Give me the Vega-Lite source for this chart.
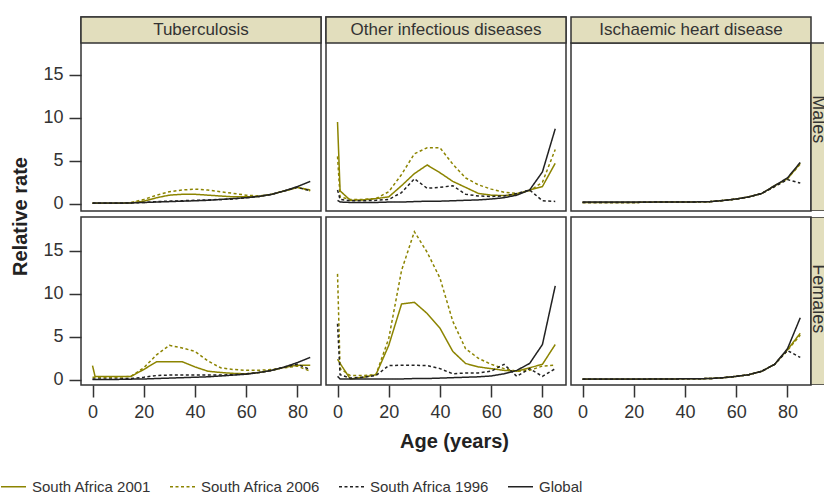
{
  "$schema": "https://vega.github.io/schema/vega-lite/v6.json",
  "padding": {"left": 0, "top": 15, "right": 0, "bottom": 0},
  "background": "white",
  "data": {"values": [
    {"disease":"Tuberculosis","sex":"Males","age":0,"South Africa 2001":0.05,"South Africa 2006":0.05,"South Africa 1996":0.05,"Global":0.1},
    {"disease":"Tuberculosis","sex":"Males","age":1,"South Africa 2001":0.05,"South Africa 2006":0.05,"South Africa 1996":0.05,"Global":0.1},
    {"disease":"Tuberculosis","sex":"Males","age":5,"South Africa 2001":0.05,"South Africa 2006":0.05,"South Africa 1996":0.05,"Global":0.1},
    {"disease":"Tuberculosis","sex":"Males","age":10,"South Africa 2001":0.05,"South Africa 2006":0.05,"South Africa 1996":0.05,"Global":0.1},
    {"disease":"Tuberculosis","sex":"Males","age":15,"South Africa 2001":0.1,"South Africa 2006":0.15,"South Africa 1996":0.1,"Global":0.1},
    {"disease":"Tuberculosis","sex":"Males","age":20,"South Africa 2001":0.3,"South Africa 2006":0.5,"South Africa 1996":0.15,"Global":0.15},
    {"disease":"Tuberculosis","sex":"Males","age":25,"South Africa 2001":0.7,"South Africa 2006":1.0,"South Africa 1996":0.25,"Global":0.2},
    {"disease":"Tuberculosis","sex":"Males","age":30,"South Africa 2001":1.0,"South Africa 2006":1.4,"South Africa 1996":0.3,"Global":0.25},
    {"disease":"Tuberculosis","sex":"Males","age":35,"South Africa 2001":1.1,"South Africa 2006":1.6,"South Africa 1996":0.35,"Global":0.3},
    {"disease":"Tuberculosis","sex":"Males","age":40,"South Africa 2001":1.1,"South Africa 2006":1.7,"South Africa 1996":0.4,"Global":0.35},
    {"disease":"Tuberculosis","sex":"Males","age":45,"South Africa 2001":1.0,"South Africa 2006":1.6,"South Africa 1996":0.45,"Global":0.4},
    {"disease":"Tuberculosis","sex":"Males","age":50,"South Africa 2001":0.9,"South Africa 2006":1.4,"South Africa 1996":0.5,"Global":0.5},
    {"disease":"Tuberculosis","sex":"Males","age":55,"South Africa 2001":0.8,"South Africa 2006":1.2,"South Africa 1996":0.55,"Global":0.6},
    {"disease":"Tuberculosis","sex":"Males","age":60,"South Africa 2001":0.8,"South Africa 2006":1.0,"South Africa 1996":0.7,"Global":0.7},
    {"disease":"Tuberculosis","sex":"Males","age":65,"South Africa 2001":0.85,"South Africa 2006":0.9,"South Africa 1996":0.85,"Global":0.85},
    {"disease":"Tuberculosis","sex":"Males","age":70,"South Africa 2001":1.1,"South Africa 2006":1.1,"South Africa 1996":1.1,"Global":1.1},
    {"disease":"Tuberculosis","sex":"Males","age":75,"South Africa 2001":1.5,"South Africa 2006":1.5,"South Africa 1996":1.5,"Global":1.5},
    {"disease":"Tuberculosis","sex":"Males","age":80,"South Africa 2001":1.9,"South Africa 2006":1.9,"South Africa 1996":1.9,"Global":2.0},
    {"disease":"Tuberculosis","sex":"Males","age":85,"South Africa 2001":1.6,"South Africa 2006":1.5,"South Africa 1996":1.5,"Global":2.6},
    {"disease":"Tuberculosis","sex":"Females","age":0,"South Africa 2001":1.65,"South Africa 2006":0.3,"South Africa 1996":0.1,"Global":0.05},
    {"disease":"Tuberculosis","sex":"Females","age":1,"South Africa 2001":0.38,"South Africa 2006":0.3,"South Africa 1996":0.1,"Global":0.05},
    {"disease":"Tuberculosis","sex":"Females","age":5,"South Africa 2001":0.38,"South Africa 2006":0.3,"South Africa 1996":0.1,"Global":0.05},
    {"disease":"Tuberculosis","sex":"Females","age":10,"South Africa 2001":0.38,"South Africa 2006":0.3,"South Africa 1996":0.1,"Global":0.05},
    {"disease":"Tuberculosis","sex":"Females","age":15,"South Africa 2001":0.4,"South Africa 2006":0.4,"South Africa 1996":0.15,"Global":0.08},
    {"disease":"Tuberculosis","sex":"Females","age":20,"South Africa 2001":1.2,"South Africa 2006":1.4,"South Africa 1996":0.3,"Global":0.1},
    {"disease":"Tuberculosis","sex":"Females","age":25,"South Africa 2001":2.1,"South Africa 2006":2.9,"South Africa 1996":0.5,"Global":0.15},
    {"disease":"Tuberculosis","sex":"Females","age":30,"South Africa 2001":2.1,"South Africa 2006":4.0,"South Africa 1996":0.55,"Global":0.2},
    {"disease":"Tuberculosis","sex":"Females","age":35,"South Africa 2001":2.1,"South Africa 2006":3.7,"South Africa 1996":0.55,"Global":0.25},
    {"disease":"Tuberculosis","sex":"Females","age":40,"South Africa 2001":1.5,"South Africa 2006":3.3,"South Africa 1996":0.55,"Global":0.3},
    {"disease":"Tuberculosis","sex":"Females","age":45,"South Africa 2001":1.0,"South Africa 2006":2.2,"South Africa 1996":0.55,"Global":0.35},
    {"disease":"Tuberculosis","sex":"Females","age":50,"South Africa 2001":0.85,"South Africa 2006":1.4,"South Africa 1996":0.55,"Global":0.45},
    {"disease":"Tuberculosis","sex":"Females","age":55,"South Africa 2001":0.75,"South Africa 2006":1.2,"South Africa 1996":0.6,"Global":0.55},
    {"disease":"Tuberculosis","sex":"Females","age":60,"South Africa 2001":0.7,"South Africa 2006":1.1,"South Africa 1996":0.7,"Global":0.65},
    {"disease":"Tuberculosis","sex":"Females","age":65,"South Africa 2001":0.85,"South Africa 2006":1.1,"South Africa 1996":0.85,"Global":0.85},
    {"disease":"Tuberculosis","sex":"Females","age":70,"South Africa 2001":1.1,"South Africa 2006":1.2,"South Africa 1996":1.1,"Global":1.1},
    {"disease":"Tuberculosis","sex":"Females","age":75,"South Africa 2001":1.45,"South Africa 2006":1.4,"South Africa 1996":1.5,"Global":1.5},
    {"disease":"Tuberculosis","sex":"Females","age":80,"South Africa 2001":1.7,"South Africa 2006":1.6,"South Africa 1996":1.8,"Global":2.0},
    {"disease":"Tuberculosis","sex":"Females","age":85,"South Africa 2001":1.7,"South Africa 2006":1.0,"South Africa 1996":1.2,"Global":2.6},
    {"disease":"Other infectious diseases","sex":"Males","age":0,"South Africa 2001":9.5,"South Africa 2006":5.5,"South Africa 1996":1.6,"Global":0.4},
    {"disease":"Other infectious diseases","sex":"Males","age":1,"South Africa 2001":1.5,"South Africa 2006":0.8,"South Africa 1996":0.5,"Global":0.2},
    {"disease":"Other infectious diseases","sex":"Males","age":5,"South Africa 2001":0.4,"South Africa 2006":0.5,"South Africa 1996":0.35,"Global":0.15},
    {"disease":"Other infectious diseases","sex":"Males","age":10,"South Africa 2001":0.45,"South Africa 2006":0.5,"South Africa 1996":0.35,"Global":0.15},
    {"disease":"Other infectious diseases","sex":"Males","age":15,"South Africa 2001":0.6,"South Africa 2006":0.6,"South Africa 1996":0.4,"Global":0.15},
    {"disease":"Other infectious diseases","sex":"Males","age":20,"South Africa 2001":0.8,"South Africa 2006":1.4,"South Africa 1996":0.5,"Global":0.2},
    {"disease":"Other infectious diseases","sex":"Males","age":25,"South Africa 2001":2.1,"South Africa 2006":3.4,"South Africa 1996":1.3,"Global":0.2},
    {"disease":"Other infectious diseases","sex":"Males","age":30,"South Africa 2001":3.5,"South Africa 2006":5.8,"South Africa 1996":2.9,"Global":0.25},
    {"disease":"Other infectious diseases","sex":"Males","age":35,"South Africa 2001":4.5,"South Africa 2006":6.5,"South Africa 1996":1.8,"Global":0.3},
    {"disease":"Other infectious diseases","sex":"Males","age":40,"South Africa 2001":3.6,"South Africa 2006":6.5,"South Africa 1996":1.9,"Global":0.3},
    {"disease":"Other infectious diseases","sex":"Males","age":45,"South Africa 2001":2.6,"South Africa 2006":4.6,"South Africa 1996":2.1,"Global":0.35},
    {"disease":"Other infectious diseases","sex":"Males","age":50,"South Africa 2001":1.9,"South Africa 2006":3.0,"South Africa 1996":1.1,"Global":0.4},
    {"disease":"Other infectious diseases","sex":"Males","age":55,"South Africa 2001":1.2,"South Africa 2006":2.2,"South Africa 1996":0.9,"Global":0.45},
    {"disease":"Other infectious diseases","sex":"Males","age":60,"South Africa 2001":1.0,"South Africa 2006":1.7,"South Africa 1996":0.85,"Global":0.55},
    {"disease":"Other infectious diseases","sex":"Males","age":65,"South Africa 2001":0.95,"South Africa 2006":1.35,"South Africa 1996":0.9,"Global":0.7},
    {"disease":"Other infectious diseases","sex":"Males","age":70,"South Africa 2001":1.1,"South Africa 2006":1.2,"South Africa 1996":1.2,"Global":1.0},
    {"disease":"Other infectious diseases","sex":"Males","age":75,"South Africa 2001":1.6,"South Africa 2006":1.5,"South Africa 1996":1.6,"Global":1.6},
    {"disease":"Other infectious diseases","sex":"Males","age":80,"South Africa 2001":2.0,"South Africa 2006":2.5,"South Africa 1996":0.35,"Global":3.7},
    {"disease":"Other infectious diseases","sex":"Males","age":85,"South Africa 2001":4.7,"South Africa 2006":6.3,"South Africa 1996":0.27,"Global":8.7},
    {"disease":"Other infectious diseases","sex":"Females","age":0,"South Africa 2001":2.4,"South Africa 2006":12.3,"South Africa 1996":6.5,"Global":0.4},
    {"disease":"Other infectious diseases","sex":"Females","age":1,"South Africa 2001":1.9,"South Africa 2006":1.3,"South Africa 1996":0.6,"Global":0.1},
    {"disease":"Other infectious diseases","sex":"Females","age":5,"South Africa 2001":0.1,"South Africa 2006":0.5,"South Africa 1996":0.2,"Global":0.1},
    {"disease":"Other infectious diseases","sex":"Females","age":10,"South Africa 2001":0.3,"South Africa 2006":0.5,"South Africa 1996":0.3,"Global":0.1},
    {"disease":"Other infectious diseases","sex":"Females","age":15,"South Africa 2001":0.6,"South Africa 2006":0.6,"South Africa 1996":0.5,"Global":0.1},
    {"disease":"Other infectious diseases","sex":"Females","age":20,"South Africa 2001":4.0,"South Africa 2006":4.8,"South Africa 1996":1.65,"Global":0.1},
    {"disease":"Other infectious diseases","sex":"Females","age":25,"South Africa 2001":8.8,"South Africa 2006":12.7,"South Africa 1996":1.7,"Global":0.1},
    {"disease":"Other infectious diseases","sex":"Females","age":30,"South Africa 2001":9.0,"South Africa 2006":17.2,"South Africa 1996":1.7,"Global":0.15},
    {"disease":"Other infectious diseases","sex":"Females","age":35,"South Africa 2001":7.7,"South Africa 2006":14.8,"South Africa 1996":1.65,"Global":0.15},
    {"disease":"Other infectious diseases","sex":"Females","age":40,"South Africa 2001":6.0,"South Africa 2006":11.8,"South Africa 1996":1.3,"Global":0.2},
    {"disease":"Other infectious diseases","sex":"Females","age":45,"South Africa 2001":3.3,"South Africa 2006":6.8,"South Africa 1996":0.7,"Global":0.25},
    {"disease":"Other infectious diseases","sex":"Females","age":50,"South Africa 2001":1.9,"South Africa 2006":3.6,"South Africa 1996":0.8,"Global":0.3},
    {"disease":"Other infectious diseases","sex":"Females","age":55,"South Africa 2001":1.5,"South Africa 2006":2.5,"South Africa 1996":0.8,"Global":0.35},
    {"disease":"Other infectious diseases","sex":"Females","age":60,"South Africa 2001":1.3,"South Africa 2006":1.8,"South Africa 1996":1.0,"Global":0.45},
    {"disease":"Other infectious diseases","sex":"Females","age":65,"South Africa 2001":1.1,"South Africa 2006":1.3,"South Africa 1996":1.8,"Global":0.7},
    {"disease":"Other infectious diseases","sex":"Females","age":70,"South Africa 2001":1.0,"South Africa 2006":1.0,"South Africa 1996":0.4,"Global":1.1},
    {"disease":"Other infectious diseases","sex":"Females","age":75,"South Africa 2001":1.4,"South Africa 2006":1.1,"South Africa 1996":1.3,"Global":1.9},
    {"disease":"Other infectious diseases","sex":"Females","age":80,"South Africa 2001":1.8,"South Africa 2006":1.6,"South Africa 1996":0.4,"Global":4.1},
    {"disease":"Other infectious diseases","sex":"Females","age":85,"South Africa 2001":4.1,"South Africa 2006":1.7,"South Africa 1996":1.3,"Global":10.9},
    {"disease":"Ischaemic heart disease","sex":"Males","age":0,"South Africa 2001":0.15,"South Africa 2006":0.15,"South Africa 1996":0.15,"Global":0.2},
    {"disease":"Ischaemic heart disease","sex":"Males","age":1,"South Africa 2001":0.15,"South Africa 2006":0.15,"South Africa 1996":0.15,"Global":0.2},
    {"disease":"Ischaemic heart disease","sex":"Males","age":5,"South Africa 2001":0.15,"South Africa 2006":0.15,"South Africa 1996":0.15,"Global":0.2},
    {"disease":"Ischaemic heart disease","sex":"Males","age":10,"South Africa 2001":0.15,"South Africa 2006":0.15,"South Africa 1996":0.15,"Global":0.2},
    {"disease":"Ischaemic heart disease","sex":"Males","age":15,"South Africa 2001":0.15,"South Africa 2006":0.15,"South Africa 1996":0.15,"Global":0.2},
    {"disease":"Ischaemic heart disease","sex":"Males","age":20,"South Africa 2001":0.15,"South Africa 2006":0.15,"South Africa 1996":0.15,"Global":0.2},
    {"disease":"Ischaemic heart disease","sex":"Males","age":25,"South Africa 2001":0.18,"South Africa 2006":0.18,"South Africa 1996":0.18,"Global":0.2},
    {"disease":"Ischaemic heart disease","sex":"Males","age":30,"South Africa 2001":0.2,"South Africa 2006":0.2,"South Africa 1996":0.2,"Global":0.2},
    {"disease":"Ischaemic heart disease","sex":"Males","age":35,"South Africa 2001":0.2,"South Africa 2006":0.2,"South Africa 1996":0.2,"Global":0.2},
    {"disease":"Ischaemic heart disease","sex":"Males","age":40,"South Africa 2001":0.2,"South Africa 2006":0.2,"South Africa 1996":0.2,"Global":0.2},
    {"disease":"Ischaemic heart disease","sex":"Males","age":45,"South Africa 2001":0.22,"South Africa 2006":0.22,"South Africa 1996":0.22,"Global":0.22},
    {"disease":"Ischaemic heart disease","sex":"Males","age":50,"South Africa 2001":0.25,"South Africa 2006":0.25,"South Africa 1996":0.25,"Global":0.25},
    {"disease":"Ischaemic heart disease","sex":"Males","age":55,"South Africa 2001":0.38,"South Africa 2006":0.38,"South Africa 1996":0.38,"Global":0.38},
    {"disease":"Ischaemic heart disease","sex":"Males","age":60,"South Africa 2001":0.55,"South Africa 2006":0.55,"South Africa 1996":0.55,"Global":0.55},
    {"disease":"Ischaemic heart disease","sex":"Males","age":65,"South Africa 2001":0.8,"South Africa 2006":0.8,"South Africa 1996":0.8,"Global":0.8},
    {"disease":"Ischaemic heart disease","sex":"Males","age":70,"South Africa 2001":1.2,"South Africa 2006":1.2,"South Africa 1996":1.2,"Global":1.2},
    {"disease":"Ischaemic heart disease","sex":"Males","age":75,"South Africa 2001":2.1,"South Africa 2006":2.0,"South Africa 1996":2.0,"Global":2.1},
    {"disease":"Ischaemic heart disease","sex":"Males","age":80,"South Africa 2001":2.9,"South Africa 2006":2.9,"South Africa 1996":2.8,"Global":3.0},
    {"disease":"Ischaemic heart disease","sex":"Males","age":85,"South Africa 2001":4.7,"South Africa 2006":4.6,"South Africa 1996":2.4,"Global":4.8},
    {"disease":"Ischaemic heart disease","sex":"Females","age":0,"South Africa 2001":0.08,"South Africa 2006":0.08,"South Africa 1996":0.08,"Global":0.1},
    {"disease":"Ischaemic heart disease","sex":"Females","age":1,"South Africa 2001":0.08,"South Africa 2006":0.08,"South Africa 1996":0.08,"Global":0.1},
    {"disease":"Ischaemic heart disease","sex":"Females","age":5,"South Africa 2001":0.08,"South Africa 2006":0.08,"South Africa 1996":0.08,"Global":0.1},
    {"disease":"Ischaemic heart disease","sex":"Females","age":10,"South Africa 2001":0.08,"South Africa 2006":0.08,"South Africa 1996":0.08,"Global":0.1},
    {"disease":"Ischaemic heart disease","sex":"Females","age":15,"South Africa 2001":0.08,"South Africa 2006":0.08,"South Africa 1996":0.08,"Global":0.1},
    {"disease":"Ischaemic heart disease","sex":"Females","age":20,"South Africa 2001":0.08,"South Africa 2006":0.08,"South Africa 1996":0.08,"Global":0.1},
    {"disease":"Ischaemic heart disease","sex":"Females","age":25,"South Africa 2001":0.08,"South Africa 2006":0.08,"South Africa 1996":0.08,"Global":0.1},
    {"disease":"Ischaemic heart disease","sex":"Females","age":30,"South Africa 2001":0.1,"South Africa 2006":0.1,"South Africa 1996":0.1,"Global":0.1},
    {"disease":"Ischaemic heart disease","sex":"Females","age":35,"South Africa 2001":0.1,"South Africa 2006":0.1,"South Africa 1996":0.1,"Global":0.1},
    {"disease":"Ischaemic heart disease","sex":"Females","age":40,"South Africa 2001":0.12,"South Africa 2006":0.12,"South Africa 1996":0.12,"Global":0.12},
    {"disease":"Ischaemic heart disease","sex":"Females","age":45,"South Africa 2001":0.13,"South Africa 2006":0.13,"South Africa 1996":0.13,"Global":0.13},
    {"disease":"Ischaemic heart disease","sex":"Females","age":50,"South Africa 2001":0.15,"South Africa 2006":0.15,"South Africa 1996":0.15,"Global":0.15},
    {"disease":"Ischaemic heart disease","sex":"Females","age":55,"South Africa 2001":0.25,"South Africa 2006":0.25,"South Africa 1996":0.25,"Global":0.25},
    {"disease":"Ischaemic heart disease","sex":"Females","age":60,"South Africa 2001":0.4,"South Africa 2006":0.4,"South Africa 1996":0.4,"Global":0.4},
    {"disease":"Ischaemic heart disease","sex":"Females","age":65,"South Africa 2001":0.6,"South Africa 2006":0.6,"South Africa 1996":0.6,"Global":0.6},
    {"disease":"Ischaemic heart disease","sex":"Females","age":70,"South Africa 2001":1.0,"South Africa 2006":1.0,"South Africa 1996":1.0,"Global":1.0},
    {"disease":"Ischaemic heart disease","sex":"Females","age":75,"South Africa 2001":1.8,"South Africa 2006":1.8,"South Africa 1996":1.8,"Global":1.8},
    {"disease":"Ischaemic heart disease","sex":"Females","age":80,"South Africa 2001":3.5,"South Africa 2006":3.4,"South Africa 1996":3.4,"Global":3.6},
    {"disease":"Ischaemic heart disease","sex":"Females","age":85,"South Africa 2001":5.4,"South Africa 2006":5.2,"South Africa 1996":2.6,"Global":7.2}
  ]},
  "transform": [{"fold": ["South Africa 2001","South Africa 2006","South Africa 1996","Global"], "as": ["series","rate"]}],
  "columns": 3,
  "spacing": {"row": 6, "column": 5},
  "bounds": "flush",
  "align": "each",
  "concat": [
    {
      "width": 240, "height": 194,
      "layer": [
        {"transform": [{"filter": "datum.disease === 'Tuberculosis' && datum.sex === 'Males'"}],
         "mark": {"type": "line", "strokeWidth": 1.5},
         "encoding": {
           "x": {"field": "age", "type": "quantitative", "scale": {"domain": [-4.5, 89.2], "nice": false, "zero": false}, "axis": null},
           "y": {"field": "rate", "type": "quantitative", "scale": {"domain": [-0.84, 21.68], "nice": false, "zero": false}, "axis": {"values": [0,5,10,15], "title": "Relative rate", "titleY": 199, "titlePadding": 12}},
           "color": {"field": "series", "type": "nominal", "title": null, "scale": {"domain": ["South Africa 2001","South Africa 2006","South Africa 1996","Global"], "range": ["#8c8400","#8c8400","#222222","#222222"]}},
           "strokeDash": {"field": "series", "type": "nominal", "title": null, "scale": {"domain": ["South Africa 2001","South Africa 2006","South Africa 1996","Global"], "range": [[1,0],[3,2.5],[3,2.5],[1,0]]}}
         }},
        {"data": {"values": [{"label": "Tuberculosis"}]},
         "mark": {"type": "rect", "fill": "#e2debd", "stroke": "#333333", "strokeWidth": 1.5},
         "encoding": {
           "x": {"datum": -4.5, "type": "quantitative", "scale": {"domain": [-4.5, 89.2], "nice": false, "zero": false}, "axis": null},
           "x2": {"datum": 89.2},
           "y": {"datum": 18.66, "type": "quantitative", "scale": {"domain": [-0.84, 21.68], "nice": false, "zero": false}},
           "y2": {"datum": 21.68}
         }},
        {"data": {"values": [{"label": "Tuberculosis"}]},
         "mark": {"type": "text", "fontSize": 17, "color": "#333333", "baseline": "middle", "align": "center"},
         "encoding": {
           "x": {"datum": 42.35, "type": "quantitative", "scale": {"domain": [-4.5, 89.2], "nice": false, "zero": false}, "axis": null},
           "y": {"datum": 20.17, "type": "quantitative", "scale": {"domain": [-0.84, 21.68], "nice": false, "zero": false}},
           "text": {"field": "label"}
         }}
      ]
    },
    {
      "width": 240, "height": 194,
      "layer": [
        {"transform": [{"filter": "datum.disease === 'Other infectious diseases' && datum.sex === 'Males'"}],
         "mark": {"type": "line", "strokeWidth": 1.5},
         "encoding": {
           "x": {"field": "age", "type": "quantitative", "scale": {"domain": [-4.5, 89.2], "nice": false, "zero": false}, "axis": null},
           "y": {"field": "rate", "type": "quantitative", "scale": {"domain": [-0.84, 21.68], "nice": false, "zero": false}, "axis": null},
           "color": {"field": "series", "type": "nominal", "title": null, "scale": {"domain": ["South Africa 2001","South Africa 2006","South Africa 1996","Global"], "range": ["#8c8400","#8c8400","#222222","#222222"]}},
           "strokeDash": {"field": "series", "type": "nominal", "title": null, "scale": {"domain": ["South Africa 2001","South Africa 2006","South Africa 1996","Global"], "range": [[1,0],[3,2.5],[3,2.5],[1,0]]}}
         }},
        {"data": {"values": [{"label": "Other infectious diseases"}]},
         "mark": {"type": "rect", "fill": "#e2debd", "stroke": "#333333", "strokeWidth": 1.5},
         "encoding": {
           "x": {"datum": -4.5, "type": "quantitative", "scale": {"domain": [-4.5, 89.2], "nice": false, "zero": false}, "axis": null},
           "x2": {"datum": 89.2},
           "y": {"datum": 18.66, "type": "quantitative", "scale": {"domain": [-0.84, 21.68], "nice": false, "zero": false}, "axis": null},
           "y2": {"datum": 21.68}
         }},
        {"data": {"values": [{"label": "Other infectious diseases"}]},
         "mark": {"type": "text", "fontSize": 17, "color": "#333333", "baseline": "middle", "align": "center"},
         "encoding": {
           "x": {"datum": 42.35, "type": "quantitative", "scale": {"domain": [-4.5, 89.2], "nice": false, "zero": false}, "axis": null},
           "y": {"datum": 20.17, "type": "quantitative", "scale": {"domain": [-0.84, 21.68], "nice": false, "zero": false}, "axis": null},
           "text": {"field": "label"}
         }}
      ]
    },
    {
      "width": 253, "height": 194,
      "view": {"stroke": null},
      "layer": [
        {"transform": [{"filter": "datum.disease === 'Ischaemic heart disease' && datum.sex === 'Males'"}],
         "mark": {"type": "line", "strokeWidth": 1.5},
         "encoding": {
           "x": {"field": "age", "type": "quantitative", "scale": {"domain": [-4.5, 94.275], "nice": false, "zero": false}, "axis": null},
           "y": {"field": "rate", "type": "quantitative", "scale": {"domain": [-0.84, 21.68], "nice": false, "zero": false}, "axis": null},
           "color": {"field": "series", "type": "nominal", "title": null, "scale": {"domain": ["South Africa 2001","South Africa 2006","South Africa 1996","Global"], "range": ["#8c8400","#8c8400","#222222","#222222"]}},
           "strokeDash": {"field": "series", "type": "nominal", "title": null, "scale": {"domain": ["South Africa 2001","South Africa 2006","South Africa 1996","Global"], "range": [[1,0],[3,2.5],[3,2.5],[1,0]]}}
         }},
        {"data": {"values": [{"label": "Males"}]},
         "mark": {"type": "rect", "fill": "transparent", "stroke": "#333333", "strokeWidth": 1.5},
         "encoding": {
           "x": {"datum": -4.5, "type": "quantitative", "scale": {"domain": [-4.5, 94.275], "nice": false, "zero": false}, "axis": null},
           "x2": {"datum": 89.2},
           "y": {"datum": -0.84, "type": "quantitative", "scale": {"domain": [-0.84, 21.68], "nice": false, "zero": false}, "axis": null},
           "y2": {"datum": 18.66}
         }},
        {"data": {"values": [{"label": "Ischaemic heart disease"}]},
         "mark": {"type": "rect", "fill": "#e2debd", "stroke": "#333333", "strokeWidth": 1.5},
         "encoding": {
           "x": {"datum": -4.5, "type": "quantitative", "scale": {"domain": [-4.5, 94.275], "nice": false, "zero": false}, "axis": null},
           "x2": {"datum": 89.2},
           "y": {"datum": 18.66, "type": "quantitative", "scale": {"domain": [-0.84, 21.68], "nice": false, "zero": false}, "axis": null},
           "y2": {"datum": 21.68}
         }},
        {"data": {"values": [{"label": "Ischaemic heart disease"}]},
         "mark": {"type": "text", "fontSize": 17, "color": "#333333", "baseline": "middle", "align": "center"},
         "encoding": {
           "x": {"datum": 42.35, "type": "quantitative", "scale": {"domain": [-4.5, 94.275], "nice": false, "zero": false}, "axis": null},
           "y": {"datum": 20.17, "type": "quantitative", "scale": {"domain": [-0.84, 21.68], "nice": false, "zero": false}, "axis": null},
           "text": {"field": "label"}
         }},
        {"data": {"values": [{"label": "Males"}]},
         "mark": {"type": "rect", "fill": "#e2debd", "stroke": "#333333", "strokeWidth": 1.5, "clip": true},
         "encoding": {
           "x": {"datum": 89.2, "type": "quantitative", "scale": {"domain": [-4.5, 94.275], "nice": false, "zero": false}, "axis": null},
           "x2": {"datum": 100},
           "y": {"datum": -0.84, "type": "quantitative", "scale": {"domain": [-0.84, 21.68], "nice": false, "zero": false}, "axis": null},
           "y2": {"datum": 18.66}
         }},
        {"data": {"values": [{"label": "Males"}]},
         "mark": {"type": "text", "fontSize": 18, "color": "#333333", "baseline": "alphabetic", "align": "center", "angle": 90, "clip": true},
         "encoding": {
           "x": {"datum": 90.0, "type": "quantitative", "scale": {"domain": [-4.5, 94.275], "nice": false, "zero": false}, "axis": null},
           "y": {"datum": 9.8, "type": "quantitative", "scale": {"domain": [-0.84, 21.68], "nice": false, "zero": false}, "axis": null},
           "text": {"field": "label"}
         }}
      ]
    },
    {
      "width": 240, "height": 168,
      "transform": [{"filter": "datum.disease === 'Tuberculosis' && datum.sex === 'Females'"}],
      "mark": {"type": "line", "strokeWidth": 1.5},
      "encoding": {
        "x": {"field": "age", "type": "quantitative", "scale": {"domain": [-4.5, 89.2], "nice": false, "zero": false}, "axis": {"values": [0,20,40,60,80], "title": null}},
        "y": {"field": "rate", "type": "quantitative", "scale": {"domain": [-0.6, 18.9], "nice": false, "zero": false}, "axis": {"values": [0,5,10,15], "title": null}},
        "color": {"field": "series", "type": "nominal", "title": null, "scale": {"domain": ["South Africa 2001","South Africa 2006","South Africa 1996","Global"], "range": ["#8c8400","#8c8400","#222222","#222222"]}},
        "strokeDash": {"field": "series", "type": "nominal", "title": null, "scale": {"domain": ["South Africa 2001","South Africa 2006","South Africa 1996","Global"], "range": [[1,0],[3,2.5],[3,2.5],[1,0]]}}
      }
    },
    {
      "width": 240, "height": 168,
      "transform": [{"filter": "datum.disease === 'Other infectious diseases' && datum.sex === 'Females'"}],
      "mark": {"type": "line", "strokeWidth": 1.5},
      "encoding": {
        "x": {"field": "age", "type": "quantitative", "scale": {"domain": [-4.5, 89.2], "nice": false, "zero": false}, "axis": {"values": [0,20,40,60,80], "title": "Age (years)", "titleX": 128, "titlePadding": 10}},
        "y": {"field": "rate", "type": "quantitative", "scale": {"domain": [-0.6, 18.9], "nice": false, "zero": false}, "axis": null},
        "color": {"field": "series", "type": "nominal", "title": null, "scale": {"domain": ["South Africa 2001","South Africa 2006","South Africa 1996","Global"], "range": ["#8c8400","#8c8400","#222222","#222222"]}},
        "strokeDash": {"field": "series", "type": "nominal", "title": null, "scale": {"domain": ["South Africa 2001","South Africa 2006","South Africa 1996","Global"], "range": [[1,0],[3,2.5],[3,2.5],[1,0]]}}
      }
    },
    {
      "width": 253, "height": 168,
      "view": {"stroke": null},
      "layer": [
        {"transform": [{"filter": "datum.disease === 'Ischaemic heart disease' && datum.sex === 'Females'"}],
         "mark": {"type": "line", "strokeWidth": 1.5},
         "encoding": {
           "x": {"field": "age", "type": "quantitative", "scale": {"domain": [-4.5, 94.275], "nice": false, "zero": false}, "axis": {"values": [0,20,40,60,80], "title": null}},
           "y": {"field": "rate", "type": "quantitative", "scale": {"domain": [-0.6, 18.9], "nice": false, "zero": false}, "axis": null},
           "color": {"field": "series", "type": "nominal", "title": null, "scale": {"domain": ["South Africa 2001","South Africa 2006","South Africa 1996","Global"], "range": ["#8c8400","#8c8400","#222222","#222222"]}},
           "strokeDash": {"field": "series", "type": "nominal", "title": null, "scale": {"domain": ["South Africa 2001","South Africa 2006","South Africa 1996","Global"], "range": [[1,0],[3,2.5],[3,2.5],[1,0]]}}
         }},
        {"data": {"values": [{"label": "Females"}]},
         "mark": {"type": "rect", "fill": "transparent", "stroke": "#333333", "strokeWidth": 1.5},
         "encoding": {
           "x": {"datum": -4.5, "type": "quantitative", "scale": {"domain": [-4.5, 94.275], "nice": false, "zero": false}},
           "x2": {"datum": 89.2},
           "y": {"datum": -0.6, "type": "quantitative", "scale": {"domain": [-0.6, 18.9], "nice": false, "zero": false}, "axis": null},
           "y2": {"datum": 18.9}
         }},
        {"data": {"values": [{"label": "Females"}]},
         "mark": {"type": "rect", "fill": "#e2debd", "stroke": "#333333", "strokeWidth": 1.5, "clip": true},
         "encoding": {
           "x": {"datum": 89.2, "type": "quantitative", "scale": {"domain": [-4.5, 94.275], "nice": false, "zero": false}},
           "x2": {"datum": 100},
           "y": {"datum": -0.6, "type": "quantitative", "scale": {"domain": [-0.6, 18.9], "nice": false, "zero": false}, "axis": null},
           "y2": {"datum": 18.9}
         }},
        {"data": {"values": [{"label": "Females"}]},
         "mark": {"type": "text", "fontSize": 18, "color": "#333333", "baseline": "alphabetic", "align": "center", "angle": 90, "clip": true},
         "encoding": {
           "x": {"datum": 90.0, "type": "quantitative", "scale": {"domain": [-4.5, 94.275], "nice": false, "zero": false}},
           "y": {"datum": 9.4, "type": "quantitative", "scale": {"domain": [-0.6, 18.9], "nice": false, "zero": false}, "axis": null},
           "text": {"field": "label"}
         }}
      ]
    }
  ],
  "config": {
    "font": "Liberation Sans, Arial, Helvetica, sans-serif",
    "view": {"stroke": "#333333", "strokeWidth": 1.5},
    "axis": {"grid": false, "domain": false, "ticks": true, "tickSize": 12, "tickWidth": 1.5, "tickColor": "#333333",
             "labelFontSize": 18, "labelColor": "#333333", "labelPadding": 6,
             "titleFontSize": 20, "titleFontWeight": "bold", "titleColor": "#222222"},
    "legend": {"orient": "none", "legendX": -81, "legendY": 456, "direction": "horizontal",
               "symbolType": "stroke", "symbolSize": 625, "symbolStrokeWidth": 1.5,
               "labelFontSize": 15, "labelColor": "#333333", "labelOffset": 5, "columnPadding": 15, "padding": 0}
  }
}
